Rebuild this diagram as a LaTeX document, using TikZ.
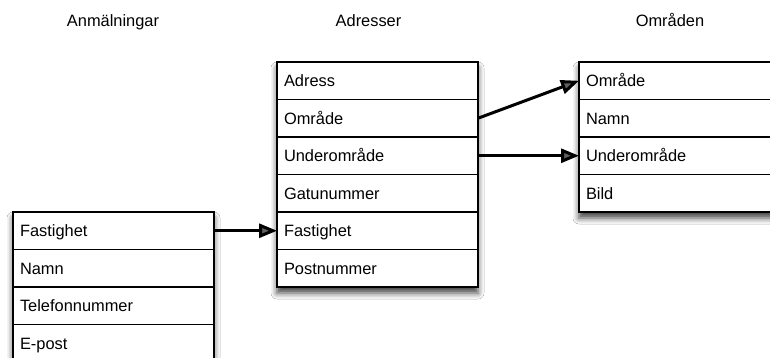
\documentclass[tikz,border=0pt]{standalone}
\usepackage{fontspec}
\setmainfont{Liberation Sans}
\usetikzlibrary{arrows.meta,shadows.blur}
\begin{document}
\begin{tikzpicture}[x=1pt,y=-1pt,
  row/.style={draw=black, line width=1.4pt, fill=white, minimum width=201pt, minimum height=37.5pt,
    inner xsep=7pt, inner ysep=0pt, outer sep=0pt, anchor=north west,
    text height=11.8pt, text depth=0pt, font=\fontsize{16.4}{18}\selectfont,
    execute at begin node={\hbox to 187pt\bgroup}, execute at end node={\hfil\egroup}},
  title/.style={anchor=base, font=\fontsize{16.4}{18}\selectfont, inner sep=0pt},
  tbl/.style={fill=white, blur shadow={shadow xshift=0pt, shadow yshift=-6pt, shadow blur radius=6pt, shadow opacity=75}},
  link/.style={line width=3pt, -{Triangle[length=18pt,width=14pt]}}
]
\useasboundingbox (0,0) rectangle (770,358);
\clip (0,0) rectangle (770,358);
\fill[white] (0,0) rectangle (770,358);

% titles
\node[title] (t1) at (113,27) {Anmälningar};
\node[title] (t2) at (368.5,27) {Adresser};
\node[title] (t3) at (670,27) {Områden};

% shadows
\path[tbl] (13,212) rectangle (214,362);
\path[tbl] (277,62) rectangle (478,287);
\path[tbl] (579,62) rectangle (780,212);

% Anmälningar
\node[row] (a1) at (13,212) {Fastighet};
\node[row] (a2) at (a1.south west) {Namn};
\node[row] (a3) at (a2.south west) {Telefonnummer};
\node[row] (a4) at (a3.south west) {E-post};

% Adresser
\node[row] (b1) at (277,62) {Adress};
\node[row] (b2) at (b1.south west) {Område};
\node[row] (b3) at (b2.south west) {Underområde};
\node[row] (b4) at (b3.south west) {Gatunummer};
\node[row] (b5) at (b4.south west) {Fastighet};
\node[row] (b6) at (b5.south west) {Postnummer};

% Områden
\node[row] (c1) at (579,62) {Område};
\node[row] (c2) at (c1.south west) {Namn};
\node[row] (c3) at (c2.south west) {Underområde};
\node[row] (c4) at (c3.south west) {Bild};

% links
\draw[link] (a1.east) -- (b5.west);
\draw[link] (b2.east) -- (c1.west);
\draw[link] (b3.east) -- (c3.west);
\end{tikzpicture}
\end{document}
